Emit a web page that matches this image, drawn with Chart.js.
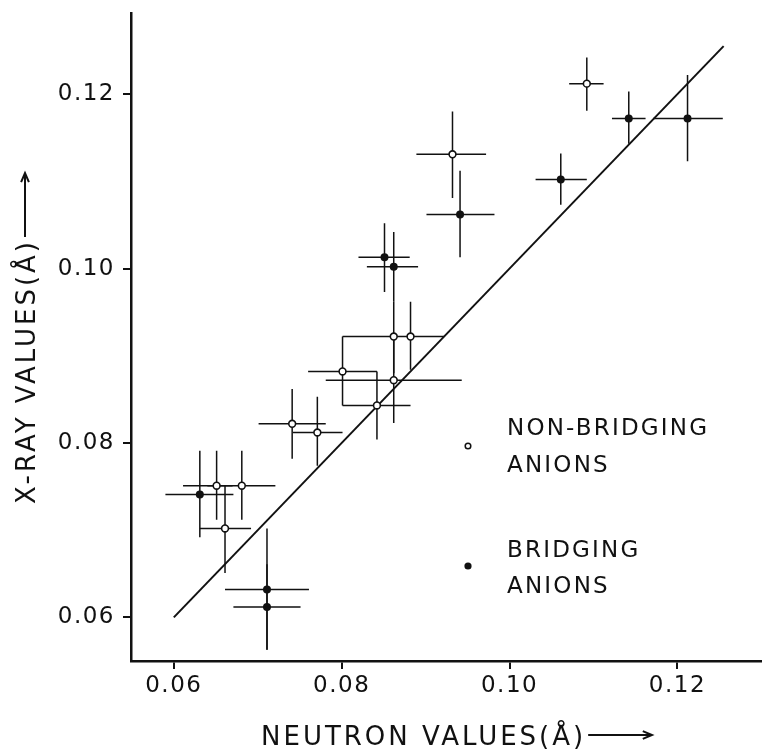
<!DOCTYPE html>
<html>
<head>
<meta charset="utf-8">
<script src="https://cdn.jsdelivr.net/npm/chart.js@4.4.0/dist/chart.umd.min.js"></script>
<style>
  html, body { margin: 0; padding: 0; background: #fff; }
  #wrap { width: 767px; height: 752px; position: relative; }
</style>
</head>
<body>
<div id="wrap"><canvas id="radiusChart"></canvas></div>
<script>
// non-bridging anions (open circles): neutron value (x) vs x-ray value (y), in Å
const openX     = [0.0651, 0.0681, 0.0661, 0.0741, 0.0771, 0.0801, 0.0842, 0.0862, 0.0862, 0.0882, 0.0932, 0.1092];
const openY     = [0.0751, 0.0751, 0.0702, 0.0822, 0.0812, 0.0882, 0.0843, 0.0872, 0.0922, 0.0922, 0.1131, 0.1212];
const openXLow  = [0.0611, 0.0640, 0.0631, 0.0701, 0.0742, 0.0760, 0.0801, 0.0781, 0.0801, 0.0862, 0.0889, 0.1071];
const openXHigh = [0.0670, 0.0721, 0.0692, 0.0781, 0.0801, 0.0842, 0.0882, 0.0943, 0.0862, 0.0922, 0.0972, 0.1112];
const openYLow  = [0.0712, 0.0712, 0.0651, 0.0782, 0.0774, 0.0843, 0.0804, 0.0823, 0.0880, 0.0884, 0.1081, 0.1181];
const openYHigh = [0.0791, 0.0791, 0.0751, 0.0862, 0.0853, 0.0922, 0.0882, 0.0920, 0.0962, 0.0962, 0.1180, 0.1242];

// bridging anions (filled circles)
const fillX     = [0.0631, 0.0711, 0.0711, 0.0851, 0.0862, 0.0941, 0.1061, 0.1142, 0.1212];
const fillY     = [0.0741, 0.0632, 0.0612, 0.1013, 0.1002, 0.1062, 0.1102, 0.1172, 0.1172];
const fillXLow  = [0.0590, 0.0661, 0.0671, 0.0820, 0.0830, 0.0901, 0.1031, 0.1122, 0.1171];
const fillXHigh = [0.0671, 0.0761, 0.0751, 0.0881, 0.0891, 0.0982, 0.1092, 0.1162, 0.1254];
const fillYLow  = [0.0692, 0.0563, 0.0563, 0.0973, 0.0962, 0.1013, 0.1073, 0.1143, 0.1123];
const fillYHigh = [0.0791, 0.0702, 0.0661, 0.1052, 0.1042, 0.1112, 0.1132, 0.1203, 0.1222];

// the straight line (x-ray = neutron)
const lineEnds = [0.060, 0.1255];

const tickValues = [0.06, 0.08, 0.10, 0.12];

const FONT = '"DejaVu Sans", sans-serif';

function toPoints(xs, ys) {
  return xs.map((x, i) => ({ x: x, y: ys[i] }));
}

// fixed axis sizes, no extra room for the end labels
function fixSize(scale, w, h) {
  if (w) scale.width = w;
  if (h) scale.height = h;
  scale.paddingTop = 0;
  scale.paddingBottom = 0;
  scale.paddingLeft = 0;
  scale.paddingRight = 0;
}

// draws the cross-shaped error bars under the markers
const errorBars = {
  id: 'errorBars',
  beforeDatasetsDraw(chart) {
    const ctx = chart.ctx;
    const xs = chart.scales.x, ys = chart.scales.y;
    ctx.save();
    ctx.strokeStyle = '#111';
    ctx.lineWidth = 1.5;
    chart.data.datasets.forEach(ds => {
      if (!ds.errors) return;
      const e = ds.errors;
      ds.data.forEach((p, i) => {
        const px = xs.getPixelForValue(p.x);
        const py = ys.getPixelForValue(p.y);
        ctx.beginPath();
        ctx.moveTo(xs.getPixelForValue(e.xLow[i]), py);
        ctx.lineTo(xs.getPixelForValue(e.xHigh[i]), py);
        ctx.moveTo(px, ys.getPixelForValue(e.yLow[i]));
        ctx.lineTo(px, ys.getPixelForValue(e.yHigh[i]));
        ctx.stroke();
      });
    });
    ctx.restore();
  }
};

// spaced lettering for the tick labels
const spacing = {
  id: 'spacing',
  beforeDraw(chart) { chart.ctx.letterSpacing = '1.5px'; },
  afterDraw(chart) { chart.ctx.letterSpacing = '0px'; }
};

function arrow(ctx, x1, y1, x2, y2) {
  const a = Math.atan2(y2 - y1, x2 - x1);
  ctx.beginPath();
  ctx.moveTo(x1, y1);
  ctx.lineTo(x2, y2);
  ctx.moveTo(x2 - 10 * Math.cos(a - 0.4), y2 - 10 * Math.sin(a - 0.4));
  ctx.lineTo(x2, y2);
  ctx.lineTo(x2 - 10 * Math.cos(a + 0.4), y2 - 10 * Math.sin(a + 0.4));
  ctx.stroke();
}

// axis titles with arrows, and the in-plot legend
const labels = {
  id: 'labels',
  afterDraw(chart) {
    const ctx = chart.ctx;
    ctx.save();
    ctx.fillStyle = '#111';
    ctx.strokeStyle = '#111';
    ctx.lineWidth = 2;
    ctx.font = '26px ' + FONT;
    ctx.letterSpacing = '3px';
    ctx.textBaseline = 'alphabetic';
    ctx.textAlign = 'left';

    // x title
    const xt = 'NEUTRON VALUES(Å)';
    ctx.fillText(xt, 261, 745);
    const xw = ctx.measureText(xt).width;
    arrow(ctx, 261 + xw + 2, 735, 652, 735);

    // y title
    ctx.save();
    ctx.translate(34.5, 504);
    ctx.rotate(-Math.PI / 2);
    const yt = 'X-RAY VALUES(Å)';
    ctx.fillText(yt, 0, 0);
    const yw = ctx.measureText(yt).width;
    arrow(ctx, yw + 2, -9.5, 331, -9.5);
    ctx.restore();

    // legend
    ctx.font = '23px ' + FONT;
    ctx.letterSpacing = '2.2px';
    ctx.fillText('NON-BRIDGING', 507, 435);
    ctx.fillText('ANIONS', 507, 472);
    ctx.fillText('BRIDGING', 507, 557);
    ctx.fillText('ANIONS', 507, 593);

    ctx.lineWidth = 1.5;
    ctx.beginPath();
    ctx.arc(468, 446, 2.8, 0, Math.PI * 2);
    ctx.fillStyle = '#fff';
    ctx.fill();
    ctx.stroke();
    ctx.beginPath();
    ctx.arc(468, 566, 3.6, 0, Math.PI * 2);
    ctx.fillStyle = '#111';
    ctx.fill();
    ctx.restore();
  }
};

const ctx = document.getElementById('radiusChart').getContext('2d');
new Chart(ctx, {
  type: 'scatter',
  data: {
    datasets: [
      {
        label: 'Non-bridging anions',
        data: toPoints(openX, openY),
        errors: { xLow: openXLow, xHigh: openXHigh, yLow: openYLow, yHigh: openYHigh },
        pointRadius: 3.4,
        pointBorderWidth: 1.6,
        pointBackgroundColor: '#fff',
        pointBorderColor: '#111',
        order: 1
      },
      {
        label: 'Bridging anions',
        data: toPoints(fillX, fillY),
        errors: { xLow: fillXLow, xHigh: fillXHigh, yLow: fillYLow, yHigh: fillYHigh },
        pointRadius: 4,
        pointBorderWidth: 0,
        pointBackgroundColor: '#111',
        pointBorderColor: '#111',
        order: 1
      },
      {
        type: 'line',
        label: 'x-ray = neutron',
        data: toPoints(lineEnds, lineEnds),
        borderColor: '#111',
        borderWidth: 2,
        pointRadius: 0,
        fill: false,
        order: 3
      }
    ]
  },
  options: {
    responsive: true,
    maintainAspectRatio: false,
    animation: false,
    layout: { padding: { top: 13, right: 0, left: 0, bottom: 0 } },
    plugins: {
      legend: { display: false },
      tooltip: { enabled: false }
    },
    scales: {
      x: {
        type: 'linear',
        min: 0.0549,
        max: 0.130,
        afterBuildTicks: scale => { scale.ticks = tickValues.map(v => ({ value: v })); },
        afterFit: scale => fixSize(scale, 0, 91),
        border: { display: true, color: '#111', width: 2.5 },
        grid: { drawOnChartArea: false, drawTicks: true, tickLength: 8, lineWidth: 2, color: '#111' },
        ticks: {
          autoSkip: false,
          maxRotation: 0,
          padding: 3,
          color: '#111',
          font: { family: FONT, size: 23 },
          callback: v => v.toFixed(2)
        }
      },
      y: {
        type: 'linear',
        min: 0.055,
        max: 0.1293,
        afterBuildTicks: scale => { scale.ticks = tickValues.map(v => ({ value: v })); },
        afterFit: scale => fixSize(scale, 131, 0),
        border: { display: true, color: '#111', width: 2.5 },
        grid: { drawOnChartArea: false, drawTicks: true, tickLength: 8, lineWidth: 2, color: '#111' },
        ticks: {
          autoSkip: false,
          padding: 8,
          color: '#111',
          font: { family: FONT, size: 23 },
          callback: v => v.toFixed(2)
        }
      }
    }
  },
  plugins: [errorBars, spacing, labels]
});
</script>
</body>
</html>
